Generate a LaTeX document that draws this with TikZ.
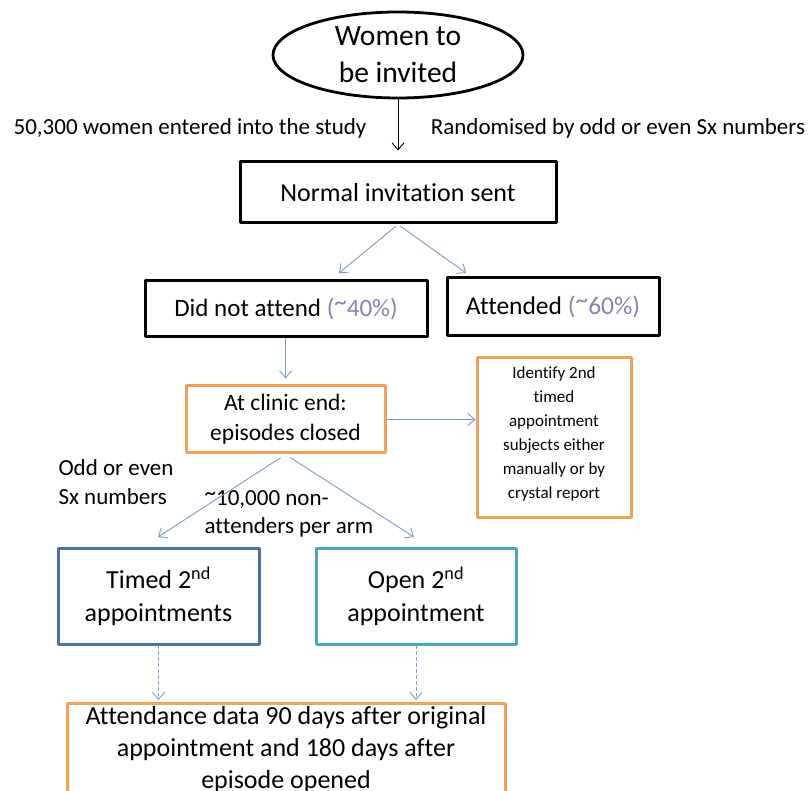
\documentclass[tikz,border=0pt]{standalone}
\usepackage{fontspec}
\setmainfont{Carlito}[Ligatures=NoCommon]
\usetikzlibrary{shapes.geometric,arrows.meta}
\definecolor{arrowblue}{HTML}{7C9CC8}
\definecolor{timedblue}{HTML}{4F6FA8}
\definecolor{openteal}{HTML}{4BA8B8}
\definecolor{boxorange}{HTML}{F2A05A}
\definecolor{pct}{HTML}{8E7EB4}
\newcommand{\hitilde}{\raisebox{0.22em}{\textasciitilde}}
\tikzset{
  blackbox/.style={draw=black, line width=3pt, rectangle, align=center},
  orangebox/.style={draw=boxorange, line width=3pt, rectangle, align=center},
  bluearrow/.style={->, draw=arrowblue, line width=0.9pt},
}
\begin{document}
\begin{tikzpicture}[x=1pt, y=-1pt, line join=round, line cap=round, >={Straight Barb[length=7pt,width=12pt]}]
	\clip (0,0) rectangle (809,791);
	\fill[white] (0,0) rectangle (809,791);
	% top of the flow
	\node[ellipse, draw, line width=2.8pt, minimum width=250pt, minimum height=86pt, inner sep=0pt, align=center, font=\fontsize{29.5}{37}\selectfont] (women) at (398,55) {Women to\\be invited};
	\node[blackbox, minimum width=316pt, minimum height=61pt, font=\fontsize{26}{30}\selectfont] (invite) at (398,192.5) {Normal invitation sent};
	\draw[->, line width=0.9pt, shorten >=10pt] (women.south) -- (invite.north);
	\node[font=\fontsize{23}{27}\selectfont] (lblstudy) at (190,128) {50,300 women entered into the study};
	\node[font=\fontsize{23}{27}\selectfont] (lblrandom) at (618,128) {Randomised by odd or even Sx numbers};
	% attended or not
	\node[blackbox, minimum width=282pt, minimum height=56pt, font=\fontsize{25}{28}\selectfont] (dna) at (286,309) {Did not attend \textcolor{pct}{(\hitilde40\%)}};
	\node[blackbox, minimum width=212pt, minimum height=58pt, font=\fontsize{25.5}{28}\selectfont] (att) at (553,307) {Attended \textcolor{pct}{(\hitilde60\%)}};
	\coordinate (dnatip) at (339,273);
	\coordinate (atttip) at (466,273);
	\draw[bluearrow, shorten <=3pt] (invite.south) -- (dnatip);
	\draw[bluearrow, shorten <=3pt] (invite.south) -- (atttip);
	% clinic end
	\node[orangebox, minimum width=199pt, minimum height=67pt, font=\fontsize{23.5}{30}\selectfont] (clinic) at (285.5,419.5) {At clinic end:\\episodes closed};
	\node[orangebox, minimum width=154pt, minimum height=159pt, font=\fontsize{17}{24}\selectfont] (ident) at (554,437.5) {Identify 2nd\\timed\\appointment\\subjects either\\manually or by\\crystal report\\[-14pt]};
	\draw[bluearrow, shorten >=6pt] (dna.south -| clinic.north) -- (clinic.north);
	\draw[bluearrow] (clinic.east) -- (clinic.east -| ident.west);
	% two arms
	\node[align=left, font=\fontsize{23}{29}\selectfont] (lblodd) at (116,482) {Odd or even\\Sx numbers};
	\node[align=left, font=\fontsize{23}{28}\selectfont] (lblarm) at (289,514) {\hitilde10,000 non-\\attenders per arm};
	\node[draw=timedblue, line width=3pt, align=center, minimum width=201pt, minimum height=96pt, font=\fontsize{26}{33}\selectfont] (timed) at (158.5,596) {Timed 2\textsuperscript{nd}\\appointments};
	\node[draw=openteal, line width=3pt, align=center, minimum width=200pt, minimum height=96pt, font=\fontsize{26}{33}\selectfont] (open) at (416,596) {Open 2\textsuperscript{nd}\\appointment};
	\coordinate (timedtip) at (158,537);
	\coordinate (opentip) at (414,537);
	\draw[bluearrow, shorten <=6pt] (clinic.south) -- (timedtip);
	\draw[bluearrow, shorten <=6pt] (clinic.south) -- (opentip);
	% outcome
	\node[orangebox, minimum width=438pt, minimum height=92pt, font=\fontsize{26}{32}\selectfont] (data) at (286,750) {Attendance data 90 days after original\\appointment and 180 days after\\episode opened};
	\draw[bluearrow, dashed, shorten >=2pt] (timed.south) -- (timed.south |- data.north);
	\draw[bluearrow, dashed, shorten >=2pt] (open.south) -- (open.south |- data.north);
\end{tikzpicture}
\end{document}
